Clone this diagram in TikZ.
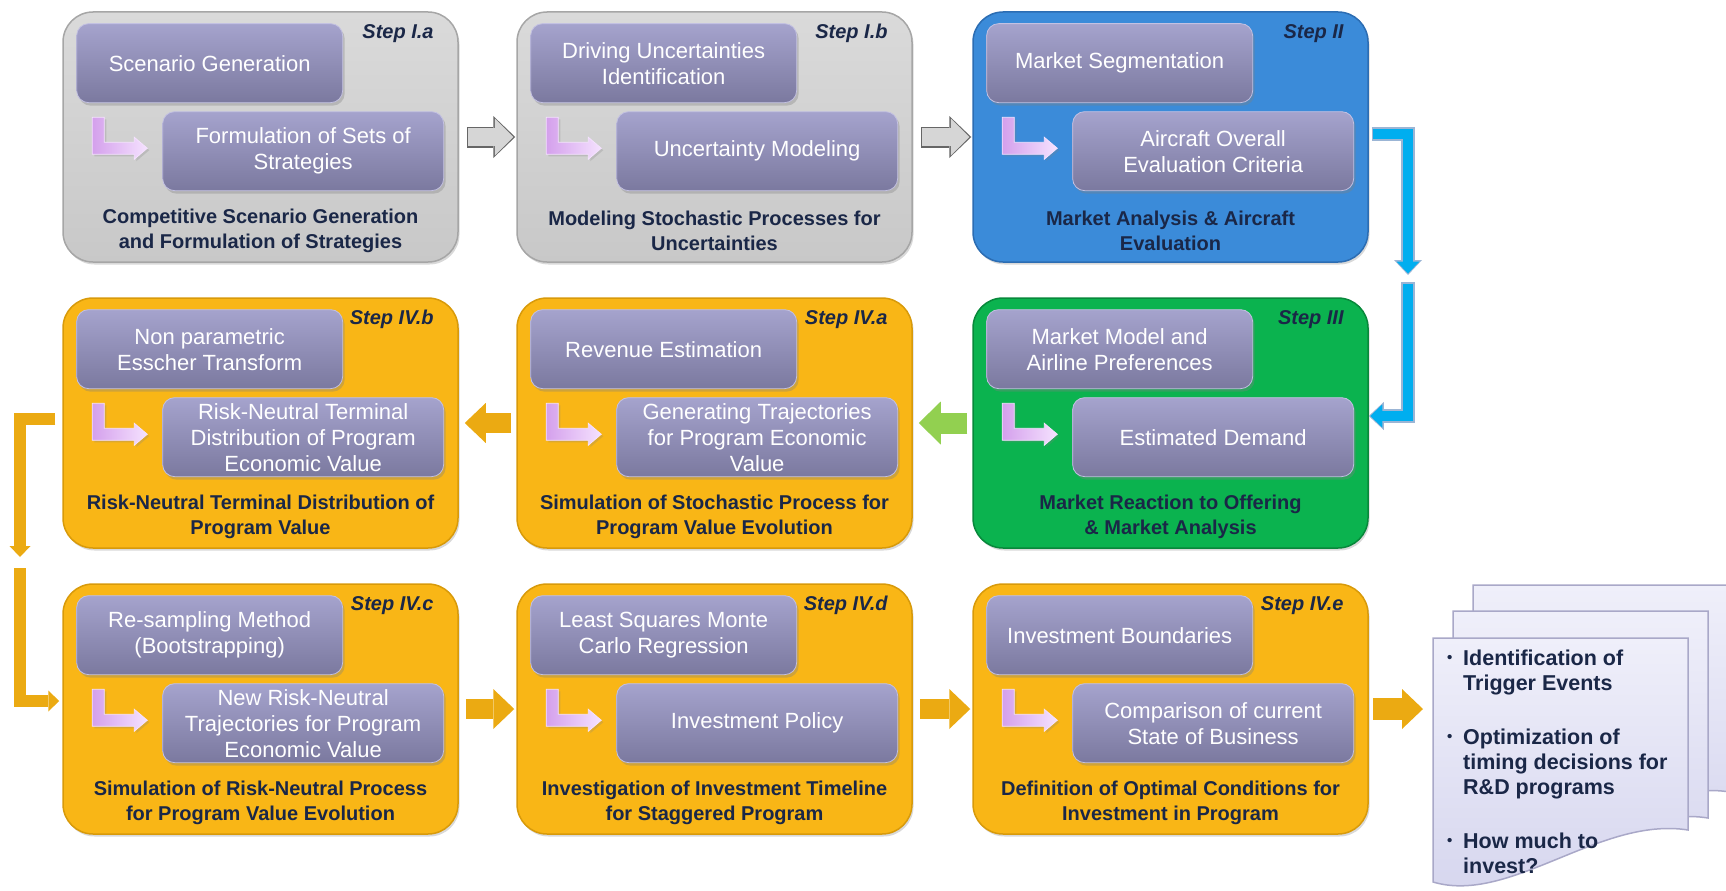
\documentclass[tikz,border=0pt]{standalone}
\usepackage{fontspec}
\setmainfont{Liberation Sans}
\usetikzlibrary{arrows.meta,shadows,calc}
\definecolor{grayTop}{HTML}{DADADA}
\definecolor{grayBot}{HTML}{C8C8C8}
\definecolor{grayEdge}{HTML}{A6A6A6}
\definecolor{blueFill}{HTML}{3B8BD9}
\definecolor{blueEdge}{HTML}{2C6DB3}
\definecolor{greenFill}{HTML}{0BB34F}
\definecolor{greenEdge}{HTML}{08883B}
\definecolor{orangeFill}{HTML}{F9B616}
\definecolor{orangeEdge}{HTML}{D89A0A}
\definecolor{innerTop}{HTML}{A5A3CD}
\definecolor{innerBot}{HTML}{7B799F}
\definecolor{innerEdge}{HTML}{C3C1E2}
\definecolor{lavL}{HTML}{D4A0EC}
\definecolor{lavR}{HTML}{F5E2FF}
\definecolor{navy}{HTML}{1A2747}
\definecolor{arrowGray}{HTML}{D6D6D6}
\definecolor{arrowGrayEdge}{HTML}{666666}
\definecolor{cyanFill}{HTML}{00AEEF}
\definecolor{cyanEdge}{HTML}{9BB5D5}
\definecolor{greenArrow}{HTML}{92D050}
\definecolor{orangeArrow}{HTML}{EBAA12}
\definecolor{docTop}{HTML}{EFEFFA}
\definecolor{docBot}{HTML}{D5D5EE}
\definecolor{docEdge}{HTML}{A9A8C8}

\newcommand\stepblock[8]{%
  \node[#4] (#1) at (#2,#3) {};
  \node[innerbox, minimum width=266pt, anchor=north west] (#1t) at ([shift={(14,12)}]#1.north west) {#5};
  \node[innerbox, minimum width=281pt, anchor=north west] (#1b) at ([shift={(100,100)}]#1.north west) {#6};
  \path[larrow, shift={(#1.north west)}] (30,106) -- (42,106) -- (42,131) -- (72,131) -- (72,126) -- (85,137) -- (72,148) -- (72,143) -- (30,143) -- cycle;
  \node[titletext] (#1x) at ([yshift=31.5pt]#1.south) {#7};
  \node[steplabel, anchor=east] (#1s) at ([shift={(-25,22)}]#1.north east) {#8};
}
\newcommand\docbullet{\hspace{3pt}\raisebox{3pt}{\fontsize{15}{15}\selectfont •}}

\begin{document}
\begin{tikzpicture}[x=1pt,y=-1pt,
  outerbox/.style={rounded corners=30pt, minimum width=395pt, minimum height=250pt, inner sep=0pt, line width=1.5pt,
    drop shadow={opacity=0.3, shadow xshift=1.5pt, shadow yshift=-2.5pt}},
  graybox/.style={outerbox, draw=grayEdge, top color=grayTop, bottom color=grayBot},
  bluebox/.style={outerbox, draw=blueEdge, fill=blueFill},
  greenbox/.style={outerbox, draw=greenEdge, fill=greenFill},
  orangebox/.style={outerbox, draw=orangeEdge, fill=orangeFill},
  innerbox/.style={rounded corners=12pt, minimum height=79pt, inner sep=2pt, top color=innerTop, bottom color=innerBot,
    draw=innerEdge, line width=0.8pt, text=white, align=center, font=\fontsize{22}{26}\selectfont,
    drop shadow={opacity=0.35, shadow xshift=2pt, shadow yshift=-3pt}},
  larrow/.style={left color=lavL, right color=lavR, draw=lavR, line width=0.8pt,
    drop shadow={opacity=0.25, shadow xshift=2pt, shadow yshift=-2pt}},
  titletext/.style={text=navy, align=center, inner sep=0pt, font=\bfseries\fontsize{20}{25}\selectfont},
  steplabel/.style={text=navy, inner sep=0pt, font=\bfseries\itshape\fontsize{20}{24}\selectfont},
  grayout/.style={draw=arrowGrayEdge, line width=21pt, -{Triangle[length=22pt,width=42pt,line width=0pt]}},
  grayin/.style={draw=arrowGray, line width=18.5pt, -{Triangle[length=18.5pt,width=37pt,line width=0pt]}},
  greenblock/.style={draw=greenArrow, line width=21pt, -{Triangle[length=22pt,width=43pt,line width=0pt]}},
  orangeblock/.style={draw=orangeArrow, line width=20pt, -{Triangle[length=21pt,width=40pt,line width=0pt]}},
  cyout/.style={draw=cyanEdge, line width=14pt, -{Triangle[length=15pt,width=28pt,line width=0pt]}},
  cyin/.style={draw=cyanFill, line width=10.5pt, -{Triangle[length=12pt,width=23pt,line width=0pt]}},
  orelbow/.style={draw=orangeArrow, line width=12pt, -{Triangle[length=11pt,width=21pt,line width=0pt]}},
  docpage/.style={top color=docTop, bottom color=docBot, draw=docEdge, line width=1.5pt},
  doctext/.style={text=navy, inner sep=0pt, anchor=north west, font=\bfseries\fontsize{21.5}{25}\selectfont}
]
\useasboundingbox (0,0) rectangle (1726,891);

% ---------- row 1 ----------
\stepblock{Ia}{260.5}{137}{graybox}{Scenario Generation}{Formulation of Sets of\\Strategies}{Competitive Scenario Generation\\and Formulation of Strategies}{Step I.a}
\stepblock{Ib}{714.5}{137}{graybox}{Driving Uncertainties\\Identification}{Uncertainty Modeling}{Modeling Stochastic Processes for\\Uncertainties}{Step I.b}
\stepblock{II}{1170.5}{137}{bluebox}{Market Segmentation}{Aircraft Overall\\Evaluation Criteria}{Market Analysis \& Aircraft\\Evaluation}{Step II}

% ---------- row 2 ----------
\stepblock{IVb}{260.5}{423}{orangebox}{Non parametric\\Esscher Transform}{Risk-Neutral Terminal\\Distribution of Program\\Economic Value}{Risk-Neutral Terminal Distribution of\\Program Value}{Step IV.b}
\stepblock{IVa}{714.5}{423}{orangebox}{Revenue Estimation}{Generating Trajectories\\for Program Economic\\Value}{Simulation of Stochastic Process for\\Program Value Evolution}{Step IV.a}
\stepblock{III}{1170.5}{423}{greenbox}{Market Model and\\Airline Preferences}{Estimated Demand}{Market Reaction to Offering\\\& Market Analysis}{Step III}

% ---------- row 3 ----------
\stepblock{IVc}{260.5}{709}{orangebox}{Re-sampling Method\\(Bootstrapping)}{New Risk-Neutral\\Trajectories for Program\\Economic Value}{Simulation of Risk-Neutral Process\\for Program Value Evolution}{Step IV.c}
\stepblock{IVd}{714.5}{709}{orangebox}{Least Squares Monte\\Carlo Regression}{Investment Policy}{Investigation of Investment Timeline\\for Staggered Program}{Step IV.d}
\stepblock{IVe}{1170.5}{709}{orangebox}{Investment Boundaries}{Comparison of current\\State of Business}{Definition of Optimal Conditions for\\Investment in Program}{Step IV.e}

% ---------- output documents ----------
\path[docpage] (1473,585) -- (1730,585) -- (1730,792) .. controls (1640,778) and (1550,867) .. (1473,842) -- cycle;
\path[docpage] (1453,611) -- (1708,611) -- (1708,818) .. controls (1620,804) and (1530,893) .. (1453,868) -- cycle;
\path[docpage] (1433,638) -- (1688,638) -- (1688,830) .. controls (1600,816) and (1510,905) .. (1433,882) -- cycle;
\coordinate (docL) at (1433,709);
\node[doctext] (doc) at (1444,648) {%
  \begin{tabular}{@{}p{19pt}@{}l@{}}
  \docbullet & Identification of\\
   & Trigger Events\\[29pt]
  \docbullet & Optimization of\\
   & timing decisions for\\
   & R\&D programs\\[29pt]
  \docbullet & How much to\\
   & invest?
  \end{tabular}};

% ---------- block arrows ----------
\draw[grayout, shorten <=8pt, shorten >=1pt] (Ia.east) -- (Ib.west);
\draw[grayin, shorten <=9.25pt, shorten >=3pt] (Ia.east) -- (Ib.west);
\draw[grayout, shorten <=8pt, shorten >=1pt] (Ib.east) -- (II.west);
\draw[grayin, shorten <=9.25pt, shorten >=3pt] (Ib.east) -- (II.west);

\draw[greenblock, shorten <=5pt, shorten >=6pt] (III.west) -- (IVa.east);
\draw[orangeblock, shorten <=5pt, shorten >=6pt] (IVa.west) -- (IVb.east);
\draw[orangeblock, shorten <=7pt, shorten >=2pt] (IVc.east) -- (IVd.west);
\draw[orangeblock, shorten <=7pt, shorten >=2pt] (IVd.east) -- (IVe.west);
\draw[orangeblock, line width=22pt, shorten <=4pt, shorten >=10pt] (IVe.east) -- (docL);

% ---------- elbow connectors ----------
\coordinate (cyA) at (1408,275);
\coordinate (cyB) at (1408,282);
\draw[cyout, shorten <=3pt] ([yshift=3pt]II.east) -| (cyA);
\draw[cyin, shorten <=4.5pt, shorten >=1.5pt] ([yshift=3pt]II.east) -| (cyA);
\draw[cyout] (cyB) |- ([yshift=7pt]III.east);
\draw[cyin, shorten <=1.5pt, shorten >=1.5pt] (cyB) |- ([yshift=7pt]III.east);

\coordinate (orA) at (20,557);
\coordinate (orB) at (20,568);
\draw[orelbow, shorten <=7pt] ([yshift=4pt]IVb.west) -| (orA);
\draw[orelbow, shorten >=3pt] (orB) |- ([yshift=8pt]IVc.west);
\end{tikzpicture}
\end{document}
